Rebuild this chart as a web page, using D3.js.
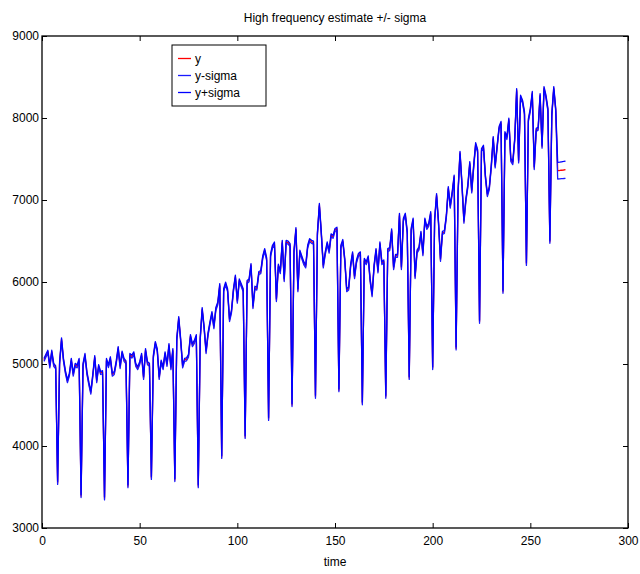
<!DOCTYPE html>
<html>
<head>
<meta charset="utf-8">
<script src="https://cdn.jsdelivr.net/npm/d3@7"></script>
<style>
  html, body { margin: 0; padding: 0; background: #fff; }
  svg { display: block; font-family: "Liberation Sans", Arial, Helvetica, sans-serif; }
</style>
</head>
<body>
<svg id="chart" width="640" height="574"></svg>
<script>
// Estimate y, one value per time step (t = 1 .. 268)
const yEstimate = [
  5050, 5100, 5150, 4970, 5150, 4990, 4960, 3550, 5010, 5300, 5050, 4900,
  4790, 4870, 5050, 4870, 4990, 4970, 5050, 3390, 4990, 5110, 4890, 4760,
  4650, 4860, 5085, 4790, 4975, 4890, 4900, 3360, 5050, 4975, 5070, 4870,
  4890, 5020, 5195, 4963, 5140, 5050, 5020, 3510, 5110, 5090, 5130, 4990,
  4950, 5010, 5110, 4830, 5170, 5010, 4990, 3610, 5090, 5256, 5170, 4830,
  5030, 4950, 5130, 4990, 5230, 4950, 5170, 3585, 5300, 5560, 5290, 4970,
  5050, 5057, 5100, 5340, 5230, 5270, 5340, 3510, 5310, 5670, 5440, 5146,
  5365, 5500, 5620, 5450, 5670, 5740, 5963, 3866, 5900, 5980, 5900, 5536,
  5640, 5900, 6065, 5760, 6020, 5960, 5900, 4110, 6000, 6020, 6207, 5695,
  5930, 5920, 6110, 6120, 6300, 6390, 6280, 4330, 6325, 6430, 6470, 5780,
  6200, 6120, 6490, 6024, 6490, 6480, 6450, 4500, 6370, 6646, 5900, 6370,
  6300, 6230, 6190, 6430, 6510, 6490, 6480, 4600, 6590, 6940, 6590, 6190,
  6350, 6470, 6370, 6570, 6550, 6634, 6650, 4680, 6430, 6500, 6270, 5900,
  5920, 6200, 6350, 6060, 6250, 6330, 6350, 4520, 6270, 6230, 6300, 6020,
  5840, 6190, 6390, 6130, 6470, 6230, 6250, 4600, 6390, 6400, 6630, 6170,
  6320, 6320, 6820, 6170, 6760, 6820, 6600, 4830, 6640, 6760, 6060, 6370,
  6410, 6600, 6340, 6760, 6660, 6700, 6840, 4950, 6756, 7060, 6720, 6270,
  6600, 6610, 6800, 7146, 6920, 7085, 7285, 5190, 7100, 7575, 7190, 6736,
  7000, 7170, 7450, 7105, 7410, 7680, 7600, 5515, 7610, 7650, 7285, 7060,
  7146, 7410, 7756, 7410, 7650, 7878, 7940, 5880, 7815, 7756, 7980, 7490,
  7450, 7735, 8340, 7470, 8260, 8200, 8060, 6220, 7975, 8100, 8305, 7390,
  7855, 7870, 8280, 7650, 8365, 8260, 8100, 6490, 8040, 8365, 8100, 7358,
  7360, 7363, 7366, 7370
];
// sigma inside the fitted range, and for the last steps (forecast)
const sigmaFit = 18;
const sigmaForecast = [102, 102, 103, 104, 105];

const xTicks = [0, 50, 100, 150, 200, 250, 300];
const yTicks = [3000, 4000, 5000, 6000, 7000, 8000, 9000];
const legendItems = [
  { key: 'y',  label: 'y',       color: '#ff0000' },
  { key: 'lo', label: 'y-sigma', color: '#1a1aff' },
  { key: 'hi', label: 'y+sigma', color: '#0000ff' }
];
const titleText = 'High frequency estimate +/- sigma';
const xLabelText = 'time';

// ---- build rows
const nFit = yEstimate.length - sigmaForecast.length;
const rows = yEstimate.map((v, i) => {
  const s = i < nFit ? sigmaFit : sigmaForecast[i - nFit];
  return { t: i + 1, y: v, lo: v - s, hi: v + s };
});

// ---- layout
const M = { left: 42, right: 628, top: 36, bottom: 528 };
const svg = d3.select('#chart');
svg.append('rect').attr('width', 640).attr('height', 574).attr('fill', '#fff');

const x = d3.scaleLinear().domain([0, 300]).range([M.left, M.right]);
const y = d3.scaleLinear().domain([3000, 9000]).range([M.bottom, M.top]);

// series
const g = svg.append('g');
legendItems.forEach(item => {
  const line = d3.line().x(d => x(d.t)).y(d => y(d[item.key]));
  g.append('path')
    .datum(rows)
    .attr('fill', 'none')
    .attr('stroke', item.color)
    .attr('stroke-width', 1.3)
    .attr('stroke-linejoin', 'round')
    .attr('d', line);
});

// axes (box with inward ticks)
const tickLen = 5;
const axBottom = svg.append('g').attr('transform', `translate(0,${M.bottom})`)
  .call(d3.axisBottom(x).tickValues(xTicks).tickSizeInner(-tickLen).tickSizeOuter(0).tickPadding(8));
const axTop = svg.append('g').attr('transform', `translate(0,${M.top})`)
  .call(d3.axisTop(x).tickValues(xTicks).tickSizeInner(-tickLen).tickSizeOuter(0).tickFormat(''));
const axLeft = svg.append('g').attr('transform', `translate(${M.left},0)`)
  .call(d3.axisLeft(y).tickValues(yTicks).tickSizeInner(-tickLen).tickSizeOuter(0).tickPadding(3).tickFormat(d3.format('d')));
const axRight = svg.append('g').attr('transform', `translate(${M.right},0)`)
  .call(d3.axisRight(y).tickValues(yTicks).tickSizeInner(-tickLen).tickSizeOuter(0).tickFormat(''));

[axBottom, axTop, axLeft, axRight].forEach(a => {
  a.select('.domain').remove();
  a.selectAll('line').attr('stroke', '#000').attr('stroke-width', 1);
  a.selectAll('text').attr('fill', '#000').style('font-size', '12px').style('font-family', '"Liberation Sans", Arial, sans-serif');
});

svg.append('rect')
  .attr('x', M.left).attr('y', M.top)
  .attr('width', M.right - M.left).attr('height', M.bottom - M.top)
  .attr('fill', 'none').attr('stroke', '#000').attr('stroke-width', 1.3);

// title and x label
svg.append('text').attr('x', (M.left + M.right) / 2).attr('y', 22)
  .attr('text-anchor', 'middle').style('font-size', '12px').text(titleText);
svg.append('text').attr('x', (M.left + M.right) / 2).attr('y', 566)
  .attr('text-anchor', 'middle').style('font-size', '12px').text(xLabelText);

// legend
const lg = svg.append('g').attr('transform', 'translate(172,45)');
lg.append('rect').attr('width', 94).attr('height', 61)
  .attr('fill', '#fff').attr('stroke', '#000').attr('stroke-width', 1);
legendItems.forEach((item, i) => {
  const yy = 13.5 + i * 17;
  lg.append('line').attr('x1', 6).attr('x2', 19).attr('y1', yy).attr('y2', yy)
    .attr('stroke', item.color).attr('stroke-width', 1.3);
  lg.append('text').attr('x', 23).attr('y', yy + 4)
    .style('font-size', '12px').text(item.label);
});
</script>
</body>
</html>
